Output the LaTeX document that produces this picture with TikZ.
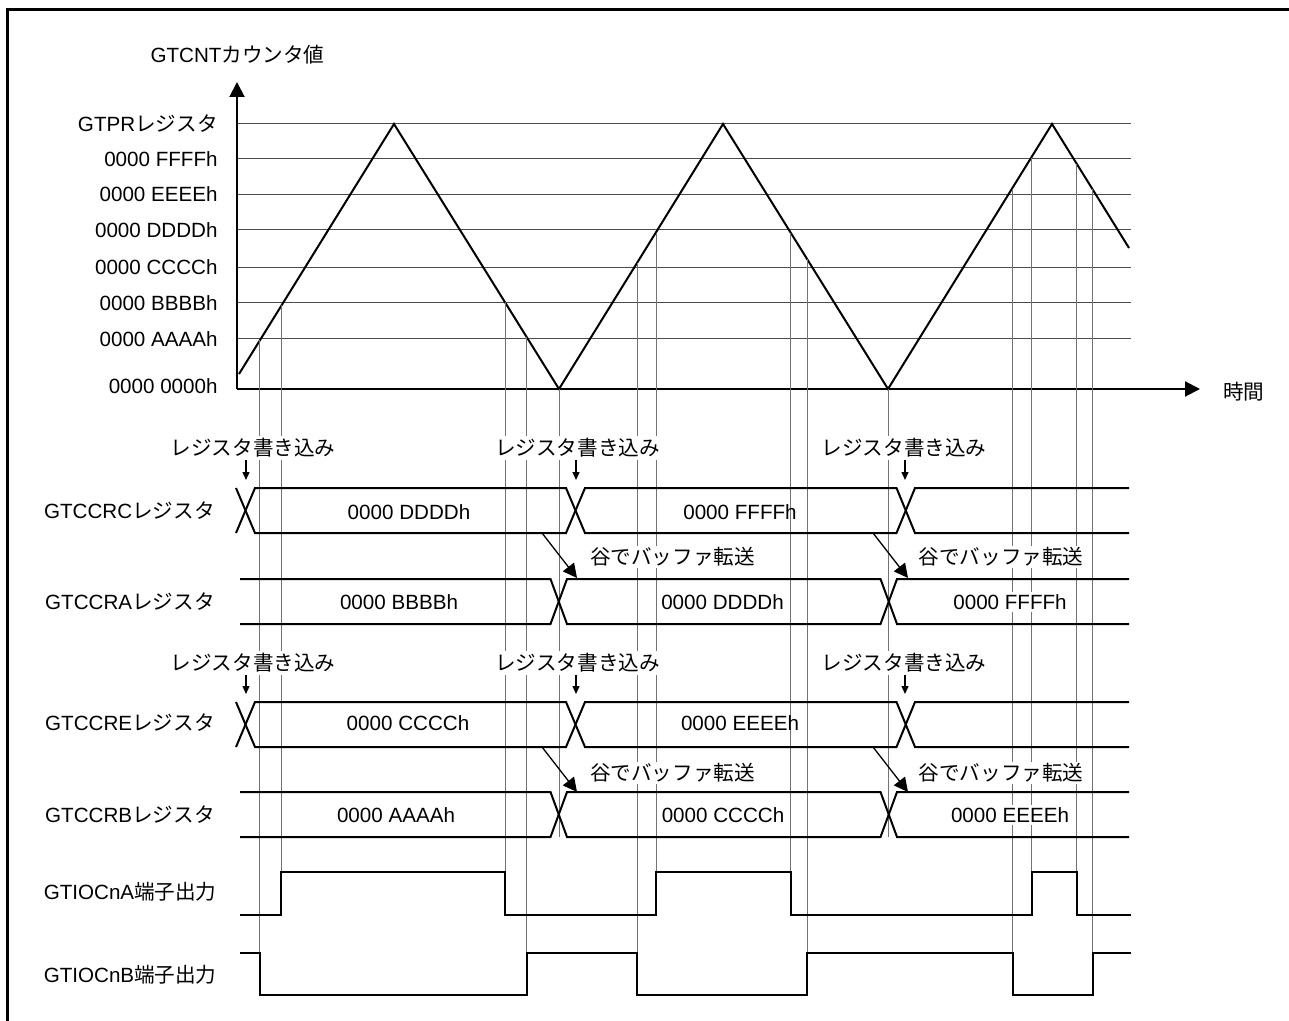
\documentclass[tikz,border=0pt]{standalone}
\usepackage{fontspec}
\setmainfont{Liberation Sans}
\newfontfamily\jp{Noto Sans CJK JP}
\usepackage{tikz}
\usetikzlibrary{arrows.meta}

\begin{document}
\begin{tikzpicture}[
    x=0.5pt, y=-0.5pt,
    font=\fontsize{10.3}{12}\selectfont,
    axisln/.style={line width=1pt, -{Triangle[length=7.5pt, width=7.5pt]}},
    gridln/.style={line width=0.5pt, black!70},
    guide/.style={line width=0.5pt, black!55},
    wave/.style={line width=1pt, line join=miter},
    bus/.style={line width=1pt, line join=miter},
    rowlbl/.style={anchor=east, inner sep=0pt},
    val/.style={fill=white, inner sep=1pt},
    wrl/.style={fill=white, inner sep=1pt},
    wr/.style={line width=0.65pt, -{Triangle[length=4pt, width=3.5pt]}},
    xfer/.style={line width=0.65pt, -{Triangle[length=7pt, width=7pt]}},
]
    \useasboundingbox (0,0) rectangle (1289,1021);
    \draw[line width=1.5pt] (7,1021) -- (7,9.5) -- (1289,9.5);

    % counter axes and levels
    \coordinate (org) at (237,389);
    \node (cntlbl) at (237.5,55) {GTCNT\jp カウンタ値};
    \node[anchor=west] (timelbl) at (1216,392) {\jp 時間};
    \foreach \yy/\txt [count=\i] in {124/{GTPR\jp レジスタ}, 159/0000 FFFFh, 194.5/0000 EEEEh,
        230/0000 DDDDh, 267.5/0000 CCCCh, 303/0000 BBBBh, 339/0000 AAAAh} {
        \draw[gridln] (237,\yy) -- (1131,\yy);
        \node[rowlbl] (lv\i) at (218,\yy) {\txt};
    }
    \node[rowlbl] (lv0) at (218,386.5) {0000 0000h};
    \draw[axisln] (org) -- (237,82);
    \draw[axisln] (org) -- (1200,389);

    \coordinate (p1) at (394,124);
    \coordinate (t1) at (559,389);
    \coordinate (p2) at (723,124);
    \coordinate (t2) at (888,389);
    \coordinate (p3) at (1052,124);
    \draw[wave] (239,374) -- (p1) -- (t1) -- (p2) -- (t2) -- (p3) -- (1129,248);

    % compare match guides
    \foreach \xx/\yy in {281/305.5, 505/302.3, 656/233.2, 790.7/232.7, 1031.7/158.2, 1076.7/163.7}
        \draw[guide] (\xx,\yy) -- (\xx,915);
    \foreach \xx/\yy in {259.7/339.7, 526.7/337.1, 637.3/263.3, 807.3/259.4, 1012.7/188.7, 1092.7/189.4}
        \draw[guide] (\xx,\yy) -- (\xx,995);
    \draw[guide] (t1) -- (559,837);
    \draw[guide] (t2) -- (888,837);

    % register rows
    \node[rowlbl] (rc) at (215,510.5) {GTCCRC\jp レジスタ};
    \node[rowlbl] (ra) at (215,602) {GTCCRA\jp レジスタ};
    \node[rowlbl] (re) at (215,723) {GTCCRE\jp レジスタ};
    \node[rowlbl] (rb) at (215,815) {GTCCRB\jp レジスタ};
    \node[rowlbl] (oa) at (217,892) {GTIOCnA\jp 端子出力};
    \node[rowlbl] (ob) at (217,975) {GTIOCnB\jp 端子出力};

    \foreach \yt in {488,702} {
        \draw[bus] (236,\yt+45) -- (255,\yt) -- (566,\yt) -- (585,\yt+45) -- (896.5,\yt+45) -- (915,\yt) -- (1129,\yt);
        \draw[bus] (236,\yt) -- (255,\yt+45) -- (566,\yt+45) -- (585,\yt) -- (896.5,\yt) -- (915,\yt+45) -- (1129,\yt+45);
    }
    \foreach \yt in {579,792} {
        \draw[bus] (240,\yt) -- (550.5,\yt) -- (567,\yt+45) -- (880.5,\yt+45) -- (897,\yt) -- (1129,\yt);
        \draw[bus] (240,\yt+45) -- (550.5,\yt+45) -- (567,\yt) -- (880.5,\yt) -- (897,\yt+45) -- (1129,\yt+45);
    }

    % pin outputs
    \draw[bus] (240,915) -- (281,915) |- (505,872) |- (656,915) |- (790.7,872) |- (1031.7,915) |- (1076.7,872) |- (1131,915);
    \draw[bus] (240,953) -- (260,953) |- (526.7,995) |- (637.3,953) |- (807.3,995) |- (1012.7,953) |- (1092.7,995) |- (1131,953);

    \node[val] (vc1) at (409,512) {0000 DDDDh};
    \node      (vc2) at (740,512) {0000 FFFFh};
    \node[val] (va1) at (399,602) {0000 BBBBh};
    \node[val] (va2) at (722.5,602) {0000 DDDDh};
    \node[val] (va3) at (1010,602) {0000 FFFFh};
    \node[val] (ve1) at (408,723) {0000 CCCCh};
    \node      (ve2) at (740,723) {0000 EEEEh};
    \node[val] (vb1) at (396,815) {0000 AAAAh};
    \node[val] (vb2) at (723,815) {0000 CCCCh};
    \node[val] (vb3) at (1010,815) {0000 EEEEh};

    % register writes
    \foreach \xx/\xc [count=\i] in {253/246, 577.5/576, 904/905} {
        \node[wrl] (wu\i) at (\xx,448) {\jp レジスタ書き込み};
        \node[wrl] (wl\i) at (\xx,663) {\jp レジスタ書き込み};
        \coordinate (xu\i) at (\xc,488);
        \coordinate (xl\i) at (\xc,702);
        \draw[wr] (wu\i.south -| xu\i) -- ([yshift=4pt]xu\i);
        \draw[wr] (wl\i.south -| xl\i) -- ([yshift=4pt]xl\i);
    }

    % buffer transfer at trough
    \foreach \xs/\xe/\xx [count=\i] in {542/577/672.5, 873/908/1001} {
        \node[wrl] (tu\i) at (\xx,557) {\jp 谷でバッファ転送};
        \node[wrl] (tl\i) at (\xx,773) {\jp 谷でバッファ転送};
        \coordinate (su\i) at (\xs,533);
        \coordinate (eu\i) at (\xe,578);
        \coordinate (sl\i) at (\xs,747);
        \coordinate (el\i) at (\xe,792);
        \draw[xfer] (su\i) -- (eu\i);
        \draw[xfer] (sl\i) -- (el\i);
    }
\end{tikzpicture}
\end{document}
